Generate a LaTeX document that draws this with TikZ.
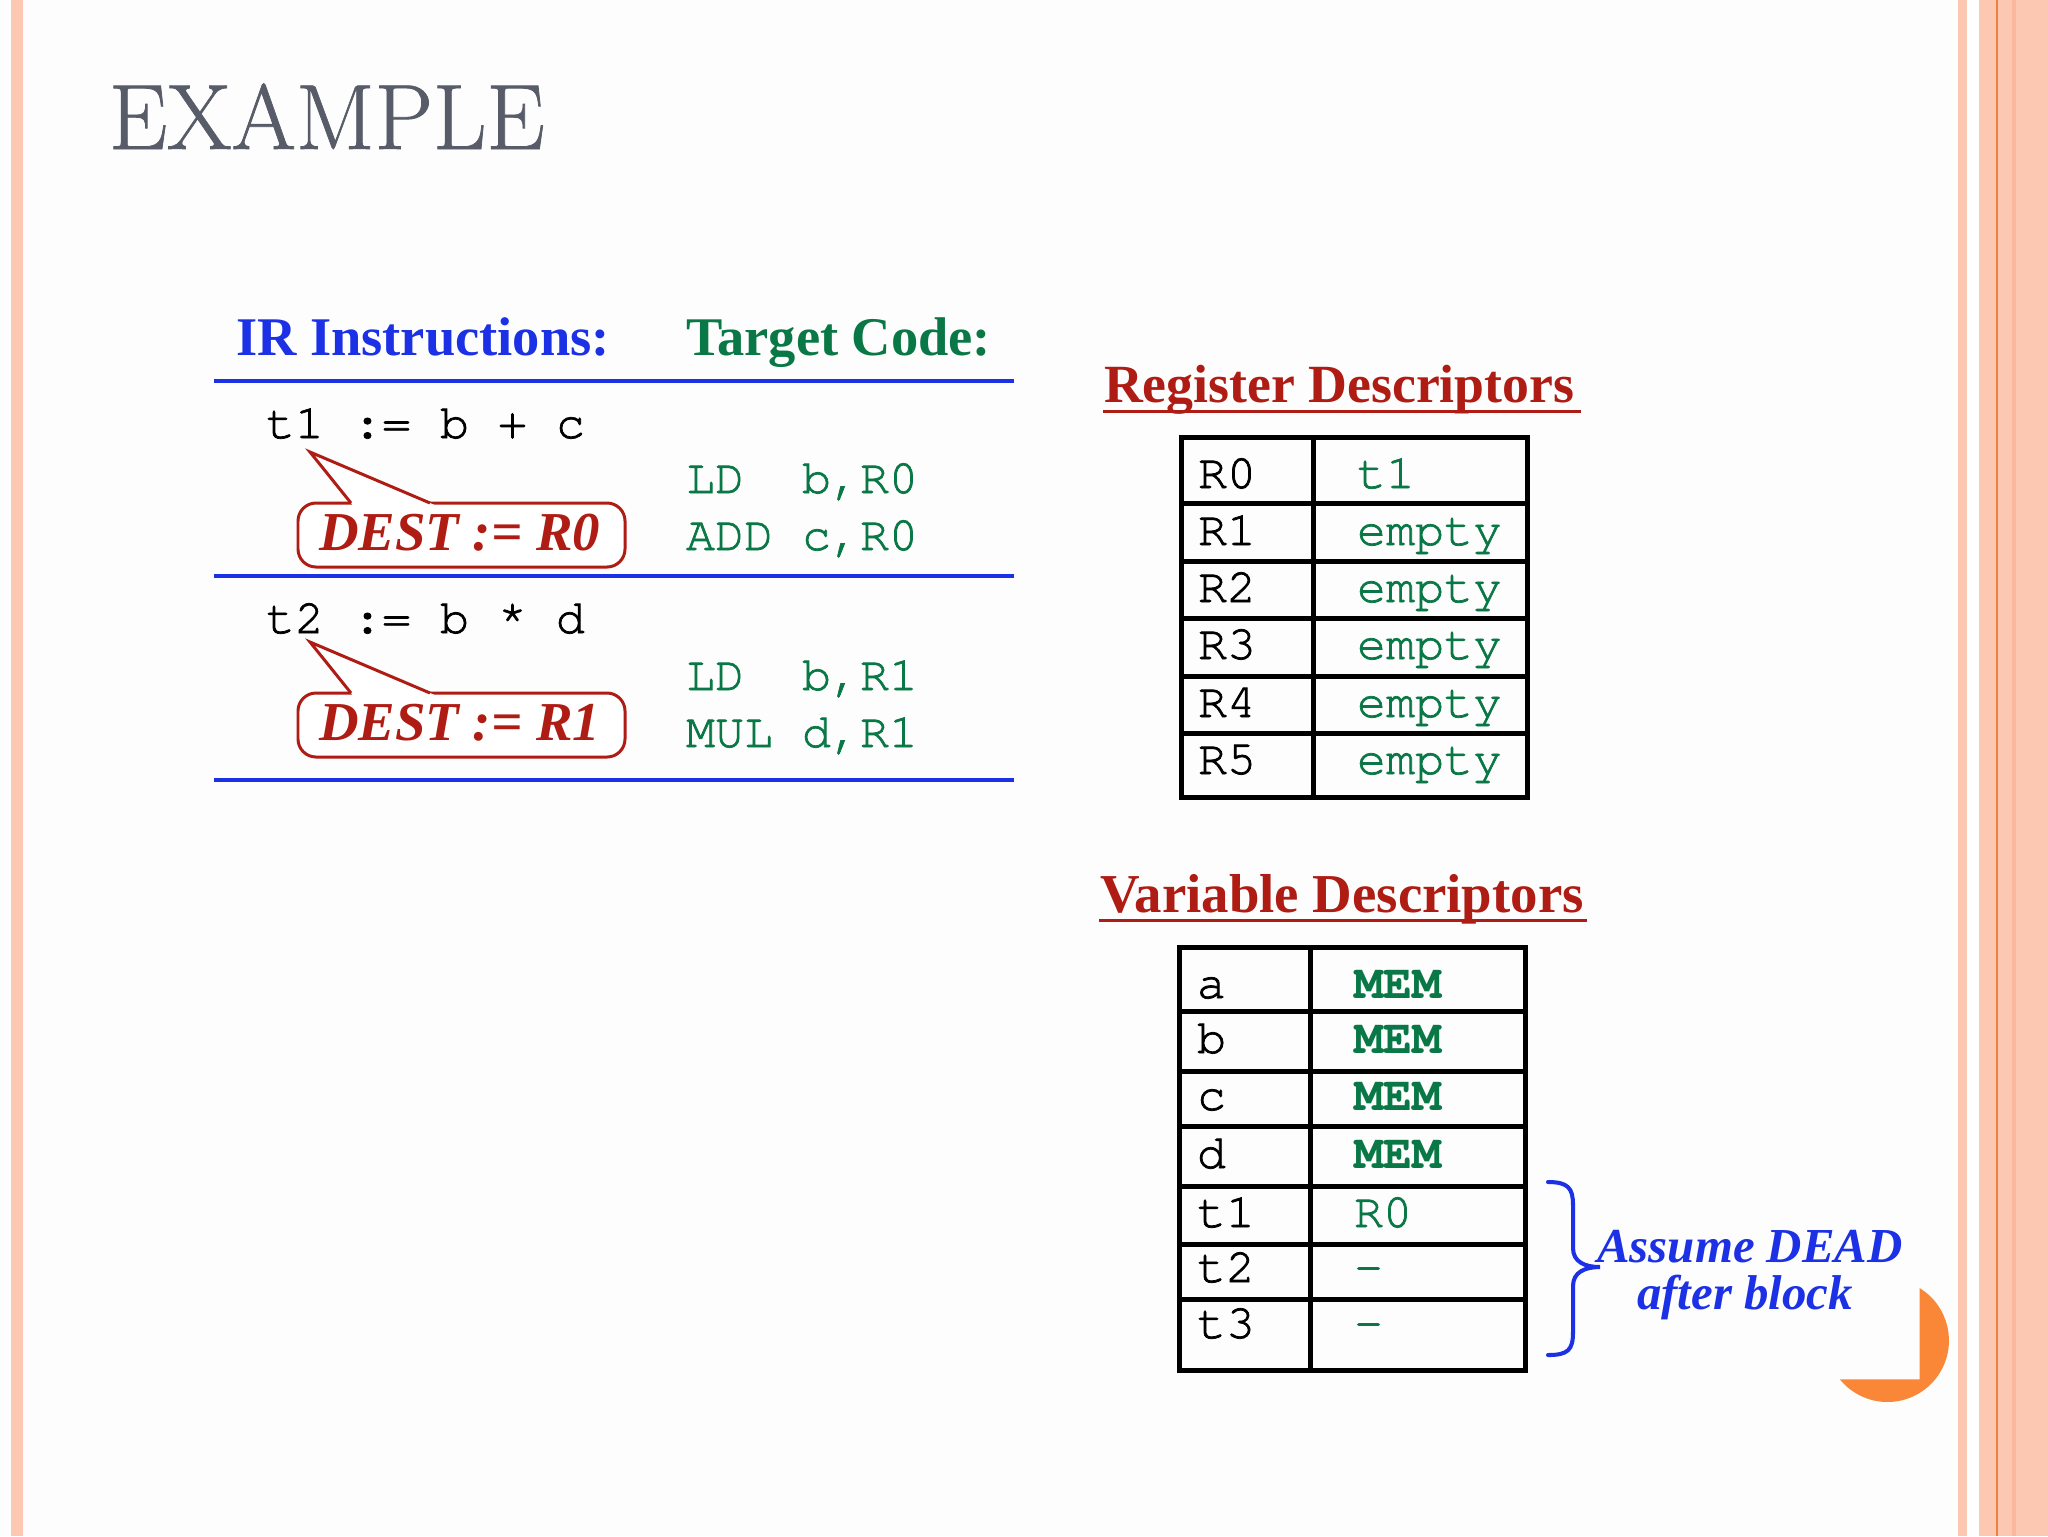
\documentclass[tikz,border=0pt]{standalone}
\usepackage{fontspec}
\newfontfamily\libser{Liberation Serif}
\newfontfamily\cour{texgyrecursor-regular.otf}[FakeBold=1.5]
\newfontfamily\courb{texgyrecursor-bold.otf}
\newfontfamily\titlefont{Latin Modern Roman}[FakeBold=0.8]
\definecolor{bgw}{RGB}{252,253,252}
\definecolor{peach}{RGB}{252,200,178}
\definecolor{peachdark}{RGB}{250,184,156}
\definecolor{orline}{RGB}{238,128,64}
\definecolor{orcirc}{RGB}{250,135,55}
\definecolor{titlegrey}{RGB}{88,92,104}
\definecolor{bluec}{RGB}{28,48,230}
\definecolor{greenc}{RGB}{10,120,70}
\definecolor{redc}{RGB}{175,28,20}
\begin{document}
\begin{tikzpicture}[x=0.1mm,y=-0.1mm,
  every node/.style={inner sep=0pt,outer sep=0pt},
  hdr/.style={anchor=base west,font=\libser\bfseries\fontsize{15.5pt}{18pt}\selectfont},
  deschdr/.style={anchor=base west,text=redc,font=\libser\bfseries\fontsize{15.3pt}{17pt}\selectfont},
  mono/.style={anchor=base west,font=\cour\fontsize{13.75pt}{15pt}\selectfont},
  monob/.style={anchor=base west,font=\courb\fontsize{13.75pt}{15pt}\selectfont},
  desttext/.style={anchor=base west,text=redc,font=\libser\bfseries\itshape\fontsize{15.6pt}{18pt}\selectfont},
  assume/.style={anchor=base,text=bluec,font=\libser\bfseries\itshape\fontsize{13.9pt}{16pt}\selectfont},
  rule/.style={draw=bluec,line width=1.3pt},
  calloutline/.style={draw=redc,line width=0.85pt},
  tbl/.style={draw=black,line width=1.42pt},
  uline/.style={draw=redc,line width=0.85pt},
  bracestyle/.style={draw=bluec,line width=1.15pt,line cap=round}]
\useasboundingbox (0,0) rectangle (2048,1536);
\fill[bgw] (0,0) rectangle (2048,1536);
% side decorations
\fill[peach] (11,0) rectangle (23,1536);
\fill[peach] (1958,0) rectangle (1967,1536);
\fill[white] (1967,0) rectangle (1979,1536);
\fill[peach] (1979,0) rectangle (2048,1536);
\fill[peachdark] (2012,0) rectangle (2016,1536);
\fill[orline] (1995.5,0) rectangle (1998,1536);
% title
\node[anchor=base west,text=titlegrey,font=\titlefont\fontsize{26.4pt}{30pt}\selectfont] (title) at (109,149) {EXAMPLE};
% headers
\node[hdr,text=bluec] (irhdr) at (236,355) {IR Instructions:};
\node[hdr,text=greenc] (tchdr) at (686,355) {Target Code:};
\draw[rule] (214,381) -- (1014,381);
\draw[rule] (214,576) -- (1014,576);
\draw[rule] (214,780) -- (1014,780);
% IR lines
\node[mono] (ir1) at (266,438) {t1 := b + c};
\node[mono] (ir2) at (266,633) {t2 := b * d};
% target code
\node[mono,text=greenc] (tc1) at (686,493) {LD\ \ b,R0};
\node[mono,text=greenc] (tc2) at (686,550) {ADD c,R0};
\node[mono,text=greenc] (tc3) at (686,690) {LD\ \ b,R1};
\node[mono,text=greenc] (tc4) at (686,747) {MUL d,R1};
% callouts
\foreach \dy/\txt/\nm in {0/R0/a,190/R1/b}{
  \begin{scope}[shift={(0,\dy)}]
    \draw[calloutline,fill=white,rounded corners=1.8mm] (298,503) rectangle (625,567);
    \fill[white] (352.6,505) -- (310,452) -- (434.7,505) -- cycle;
    \draw[calloutline,line join=miter] (351,503) -- (310,452) -- (430,503);
    \node[desttext] (dest\nm) at (319,550) {DEST := \txt};
  \end{scope}
}
% register descriptors
\node[deschdr] (reghdr) at (1104,402) {Register Descriptors};
\draw[uline] (1103,411) -- (1581,411);
\draw[tbl] (1181,437) rectangle (1527,797);
\draw[tbl] (1313,437) -- (1313,797);
\foreach \y in {503,561,618,676,733} \draw[tbl] (1181,\y) -- (1527,\y);
\foreach \r/\v/\b in {0/t1/488,1/empty/545,2/empty/602,3/empty/659,4/empty/717,5/empty/774}{
  \node[mono] (rl\r) at (1198,\b) {R\r};
  \node[mono,text=greenc] (rv\r) at (1357,\b) {\v};
}
% variable descriptors
\node[deschdr,font=\libser\bfseries\fontsize{15.6pt}{17pt}\selectfont] (varhdr) at (1100,912) {Variable Descriptors};
\draw[uline] (1099,920) -- (1587,920);
\draw[tbl] (1179,947) rectangle (1525,1370);
\draw[tbl] (1310,947) -- (1310,1370);
\foreach \y in {1011,1071,1126,1186,1244,1299} \draw[tbl] (1179,\y) -- (1525,\y);
\foreach \i/\n/\b in {1/a/998,2/b/1053,3/c/1110,4/d/1168}{
  \node[mono] (vl\i) at (1197,\b) {\n};
  \node[monob,text=greenc] (vv\i) at (1354,\b) {MEM};
}
\foreach \i/\n/\v/\b in {5/t1/R0/1227,6/t2/-/1282,7/t3/-/1338}{
  \node[mono] (vl\i) at (1197,\b) {\n};
  \node[mono,text=greenc] (vv\i) at (1354,\b) {\v};
}
% brace and note
\draw[bracestyle] (1548,1182) .. controls (1568,1182) and (1573,1188) .. (1573,1205) -- (1573,1248) .. controls (1573,1262) and (1585,1267) .. (1600,1267) .. controls (1585,1267) and (1573,1272) .. (1573,1286) -- (1573,1332) .. controls (1573,1350) and (1568,1355) .. (1548,1355);
\node[assume] (dead1) at (1750,1262) {Assume DEAD};
\node[assume] (dead2) at (1745,1309) {after block};
% orange corner mark
\fill[orcirc] (1919.5,1288) arc[start angle=58.6,end angle=-140.8,radius=6.15mm] -- (1919.5,1379.3) -- cycle;
\end{tikzpicture}
\end{document}
